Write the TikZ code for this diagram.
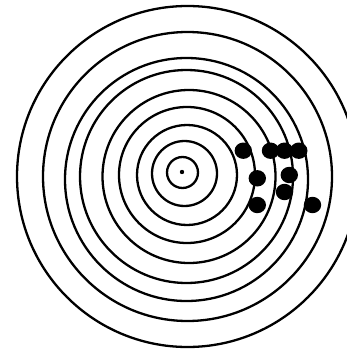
\documentclass[tikz,border=0pt]{standalone}
\usetikzlibrary{positioning}

\begin{document}
\begin{tikzpicture}[
    x=1pt, y=-1pt,
    ring/.style={draw=black, line width=2.3pt},
    hit/.style={fill=black},
  ]
    \useasboundingbox (0,0) rectangle (347,350);
    \clip (0,0) rectangle (347,350);

    % rings, outside in: centre x / centre y / radius
    \foreach \cx/\cy/\r in {187.5/176.5/170.5, 187.5/176.5/144.5,
        186.5/179.5/121.5, 186.5/176.5/106.5, 189/176.5/86.5,
        187/175/68, 187/175/50, 184.5/173.5/32.5, 182.5/172.5/15.5}
      \draw[ring] (\cx,\cy) circle (\r);

    % centre mark
    \fill (182,172) circle (2.2);

    % hits
    \foreach \hx/\hy in {243.3/150.7, 270.5/150.7, 284.5/150.7, 298.8/150.7,
        257.3/178.3, 289.3/175, 284.5/192, 257.3/205, 312.5/205}
      \fill[hit] (\hx,\hy) ellipse (8.7 and 8.2);
  \end{tikzpicture}
\end{document}
